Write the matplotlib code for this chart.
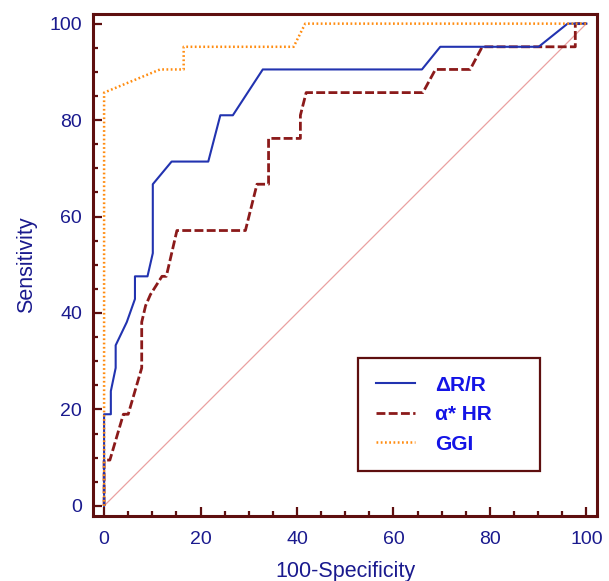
import matplotlib
matplotlib.use('Agg')
import matplotlib.pyplot as plt
from matplotlib.ticker import MultipleLocator

plt.rcParams['font.family'] = ['Liberation Sans', 'DejaVu Sans']

# ROC curves: x = 100-Specificity, y = Sensitivity
drr_x = [0, 0, 1.4, 1.4, 2.4, 2.4, 4.7, 6.4, 6.4, 9.0, 10.1, 10.1, 14.0, 21.6,
         24.1, 26.7, 32.9, 65.9, 69.7, 90.1, 96.1, 100]
drr_y = [0, 19.0, 19.0, 23.8, 28.6, 33.3, 38.1, 42.9, 47.6, 47.6, 52.4, 66.7,
         71.4, 71.4, 81.0, 81.0, 90.5, 90.5, 95.2, 95.2, 100, 100]

ahr_x = [0, 0, 1.2, 4.0, 5.0, 7.8, 7.8, 8.6, 9.6, 12.0, 12.9, 15.1, 29.3, 31.7,
         34.1, 34.1, 40.7, 40.7, 41.9, 66.1, 68.7, 75.9, 78.4, 97.7, 97.7, 100]
ahr_y = [0, 9.5, 9.5, 19.0, 19.0, 28.6, 38.1, 41.5, 43.8, 47.6, 47.6, 57.1,
         57.1, 66.7, 66.7, 76.2, 76.2, 81.0, 85.7, 85.7, 90.5, 90.5, 95.2, 95.2,
         100, 100]

ggi_x = [0, 0, 11.6, 16.5, 16.5, 39.3, 41.7, 100]
ggi_y = [0, 85.7, 90.5, 90.5, 95.2, 95.2, 100, 100]

ref_x = [0, 100]
ref_y = [0, 100]

labels = ['\u0394R/R', '\u03b1* HR', 'GGI']

maroon = '#5e0f0f'
navy = '#1a1a8e'

W, H = 609, 581
fig = plt.figure(figsize=(W / 100, H / 100), dpi=100)
ax = fig.add_axes([93 / W, 1 - 516 / H, (597 - 93) / W, (516 - 14) / H])

ax.plot(ref_x, ref_y, color='#eaa0a0', lw=0.9, zorder=1)
l1, = ax.plot(drr_x, drr_y, color='#2233b0', lw=1.5, zorder=3)
l2, = ax.plot(ahr_x, ahr_y, color='#8b1a1a', lw=2.0, ls=(0, (3.2, 1.2)), zorder=2)
l3, = ax.plot(ggi_x, ggi_y, color='#ff8c10', lw=1.8, ls=(0, (0.7, 1.0)), zorder=4)

ax.set_xlim(-2.3, 102.2)
ax.set_ylim(-2.1, 102.0)

ax.xaxis.set_major_locator(MultipleLocator(20))
ax.xaxis.set_minor_locator(MultipleLocator(5))
ax.yaxis.set_major_locator(MultipleLocator(20))
ax.yaxis.set_minor_locator(MultipleLocator(5))

for s in ax.spines.values():
    s.set_color(maroon)
    s.set_linewidth(2.2)

ax.tick_params(which='both', direction='in', color=maroon, width=1.6,
               top=False, right=False, labelcolor=navy, labelsize=14)
ax.tick_params(axis='x', pad=11)
ax.tick_params(axis='y', pad=8)
ax.tick_params(which='major', length=6.5)
ax.tick_params(which='minor', length=3.6)

ax.set_xlabel('100-Specificity', color=navy, fontsize=15.5, labelpad=9)
ax.set_ylabel('Sensitivity', color=navy, fontsize=15.5, labelpad=9)

# legend box placed in figure pixels: x 358-540, y 358-468 (from top)
leg = ax.legend([l1, l2, l3], labels, loc='upper left',
                bbox_to_anchor=(358 / W, 1 - 468 / H, 182 / W, 110 / H),
                bbox_transform=fig.transFigure, mode='expand', fancybox=False,
                edgecolor=maroon, framealpha=1, borderpad=0.85,
                borderaxespad=0, labelspacing=0.5, handlelength=1.9,
                handletextpad=0.96,
                prop={'weight': 'bold', 'size': 15}, labelcolor='#1414e6')
leg.get_frame().set_linewidth(1.6)

fig.savefig('out.png', dpi=100)
